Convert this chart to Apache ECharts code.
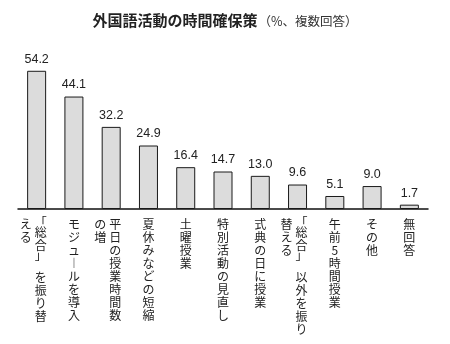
<!DOCTYPE html>
<html>
<head>
<meta charset="utf-8">
<script src="https://cdn.jsdelivr.net/npm/echarts@6/dist/echarts.min.js"></script>
<style>html,body{margin:0;padding:0;background:#fff}#c{width:450px;height:344px}</style>
</head>
<body>
<div id="c"></div>
<script>
// Category labels: "\n" separates the first (right) and second (left) vertical column
const categories = [
  '「総合」 を振り替\nえる',
  'モジュールを導入',
  '平日の授業時間数\nの増',
  '夏休みなどの短縮',
  '土曜授業',
  '特別活動の見直し',
  '式典の日に授業',
  '「総合」 以外を振り\n替える',
  '午前5時間授業',
  'その他',
  '無回答'
];
const values = [54.2, 44.1, 32.2, 24.9, 16.4, 14.7, 13.0, 9.6, 5.1, 9.0, 1.7];
const titleMain = '外国語活動の時間確保策';
const titleSub = '（%、複数回答）';

function column(label, c) {
  const parts = label.split('\n');
  const t = parts[c];
  if (!t) return '';
  const st = parts.length > 1 ? (c === 0 ? 'r' : 'l') : 'n';
  return Array.from(t).map(ch => {
    if (ch === '「') return '{' + st + 'o|「}';
    if (ch === '」') return '{' + st + 'e|」}';
    if (ch === ' ') return '{' + st + '|　}';
    if (ch === 'ー') return '{' + st + '|︱}';
    return '{' + st + '|' + ch + '}';
  }).join('\n');
}
const base = {fontFamily: 'Noto Sans CJK JP', fontSize: 12, color: '#222', lineHeight: 13, align: 'center'};
function mk(extra) { return Object.assign({}, base, extra); }
const rich = {
  n: mk({}), no: mk({lineHeight: 8}), ne: mk({lineHeight: 6}),
  r: mk({padding: [0, 0, 0, 8]}), ro: mk({lineHeight: 8, padding: [0, 0, 0, 8]}), re: mk({lineHeight: 6, padding: [0, 0, 0, 8]}),
  l: mk({padding: [0, 22, 0, 0]}), lo: mk({lineHeight: 8, padding: [0, 22, 0, 0]}), le: mk({lineHeight: 6, padding: [0, 22, 0, 0]})
};

const chart = echarts.init(document.getElementById('c'), null, {renderer: 'canvas'});
chart.setOption({
  animation: false,
  backgroundColor: '#fff',
  title: {
    text: '{a|' + titleMain + '}{b|' + titleSub + '}',
    left: 'center', top: 8,
    textStyle: {
      fontWeight: 'normal',
      rich: {
        a: {fontFamily: 'Noto Sans CJK JP', fontSize: 15, fontWeight: 'bold', color: '#222'},
        b: {fontFamily: 'Noto Sans CJK JP', fontSize: 12.5, fontWeight: 'normal', color: '#333', padding: [2, 0, 0, 1]}
      }
    }
  },
  grid: {left: 18, right: 22, top: 56, bottom: 135, containLabel: false},
  xAxis: [
    {
      type: 'category', data: categories, position: 'bottom',
      axisLine: {lineStyle: {color: '#111', width: 1.5}},
      axisTick: {show: false},
      axisLabel: {interval: 0, margin: 9, verticalAlign: 'top', formatter: v => column(v, 0), rich: rich}
    },
    {
      type: 'category', data: categories, position: 'bottom', offset: 0,
      axisLine: {show: false}, axisTick: {show: false},
      axisLabel: {interval: 0, margin: 9, verticalAlign: 'top', formatter: v => column(v, 1), rich: rich}
    }
  ],
  yAxis: {type: 'value', min: 0, max: 60, show: false, splitLine: {show: false}},
  series: [{
    type: 'bar', xAxisIndex: 0, data: values, barWidth: 19,
    itemStyle: {color: '#dcdcdc', borderColor: '#1a1a1a', borderWidth: 1},
    label: {show: true, position: 'top', distance: 5, formatter: p => p.value.toFixed(1),
      fontFamily: 'Liberation Sans', fontSize: 12.5, color: '#222'}
  }]
});
</script>
</body>
</html>
